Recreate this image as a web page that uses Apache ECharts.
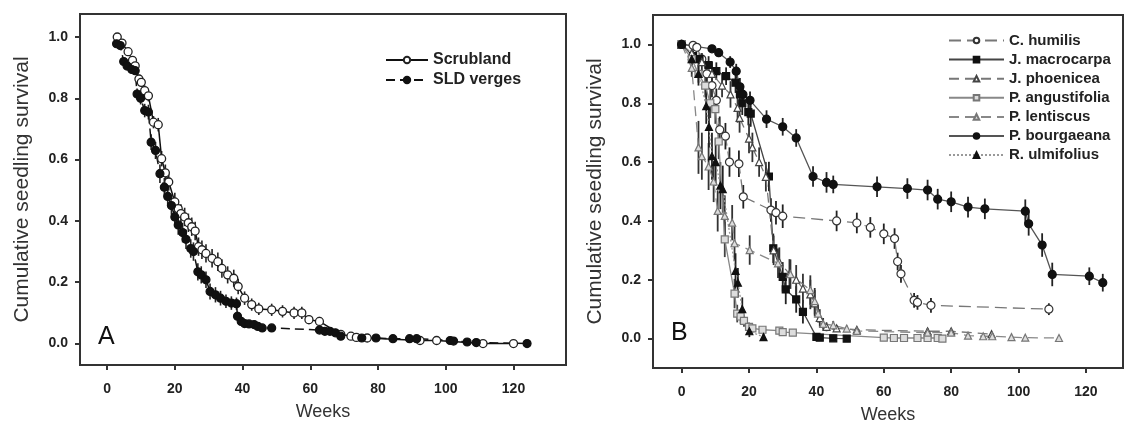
<!DOCTYPE html>
<html><head><meta charset="utf-8">
<script src="https://cdn.jsdelivr.net/npm/echarts@6/dist/echarts.min.js"></script>
<style>html,body{margin:0;padding:0;background:#fff}#c{width:1124px;height:430px}</style>
</head><body><div id="c"></div>
<script>
// ---- axis ticks ----
const xTicks = [0,20,40,60,80,100,120];
const yTicks = [0,0.2,0.4,0.6,0.8,1.0];

// ---- Panel A ----
const scrubWeeks = [3,4.4,6.2,7.5,8.3,9.4,10.1,11.1,12.2,13.7,15.1,16.1,17.2,18.2,20,21,21.8,22.9,24,25,26,27,28,29.2,31,32.7,33.9,35.6,37.4,38.7,40.6,42.7,44.8,48.6,51.8,55.2,57.5,59.6,62.7,69,72,73.6,76.8,92.4,97.3,111,120];
const scrubVals  = [1.0,0.98,0.952,0.924,0.906,0.863,0.852,0.825,0.808,0.722,0.714,0.603,0.557,0.527,0.462,0.44,0.424,0.413,0.394,0.381,0.367,0.316,0.306,0.294,0.278,0.267,0.245,0.224,0.213,0.186,0.148,0.127,0.113,0.11,0.105,0.1,0.1,0.078,0.072,0.03,0.024,0.02,0.018,0.01,0.01,0.0,0.0];
const scrubErr   = [0,0.005,0.008,0.01,0.012,0.014,0.015,0.017,0.018,0.02,0.022,0.025,0.027,0.028,0.03,0.03,0.03,0.03,0.03,0.03,0.03,0.03,0.03,0.03,0.03,0.03,0.03,0.028,0.028,0.025,0.022,0.02,0.02,0.02,0.02,0.02,0.02,0.015,0.015,0.008,0.007,0.006,0.006,0.004,0.004,0,0];

const sldWeeks = [2.8,3.9,4.9,5.9,7.3,8.3,8.85,9.9,11.1,12.2,13,14.3,15.6,16.9,17.9,19,20,21,22.3,23.3,24.7,25.5,26.8,27.8,29.2,30.4,32,33.5,35.1,36.7,38.2,38.5,39.6,40.6,41.9,43.4,44.5,45.8,48.6,62.7,64.3,65.8,67.4,69,75.2,79.4,84.4,89.3,91.4,101.3,102.3,106.3,109,124];
const sldVals  = [0.978,0.972,0.92,0.905,0.894,0.89,0.814,0.8,0.76,0.755,0.657,0.63,0.554,0.51,0.48,0.45,0.413,0.387,0.362,0.34,0.31,0.3,0.234,0.224,0.208,0.17,0.159,0.148,0.138,0.132,0.13,0.089,0.072,0.065,0.064,0.062,0.056,0.051,0.051,0.044,0.04,0.04,0.035,0.024,0.018,0.018,0.016,0.016,0.016,0.01,0.008,0.005,0.003,0.0];
const sldErr   = [0.005,0.006,0.01,0.012,0.013,0.014,0.018,0.02,0.022,0.024,0.026,0.028,0.03,0.03,0.03,0.03,0.032,0.032,0.032,0.032,0.03,0.03,0.028,0.028,0.027,0.026,0.025,0.024,0.022,0.022,0.02,0.015,0.012,0.01,0.01,0.01,0.01,0.008,0.008,0.008,0.008,0.008,0.007,0.006,0.005,0.005,0.004,0.004,0.004,0.003,0.003,0.002,0.002,0];

// ---- Panel B ----
const humWeeks = [0,3.4,4.5,6,7.5,9,10.3,11.3,13,14.2,17,18.3,26.5,28,30,46,52,56,60,63.2,64.1,65.1,69,70,74,109];
const humVals  = [1,0.997,0.99,0.95,0.9,0.86,0.81,0.71,0.688,0.6,0.594,0.482,0.437,0.428,0.416,0.4,0.393,0.378,0.356,0.34,0.262,0.22,0.13,0.123,0.113,0.1];
const humErr   = [0,0.005,0.01,0.02,0.03,0.04,0.04,0.045,0.045,0.05,0.045,0.04,0.04,0.04,0.04,0.035,0.035,0.035,0.035,0.035,0.03,0.03,0.025,0.025,0.025,0.02];

const macWeeks = [0,3.4,5.3,8,10.3,13.2,16,17.3,18,19.8,20.5,25.9,27.2,30,30.9,34,36,40,41,45,49];
const macVals  = [1,0.96,0.95,0.93,0.909,0.892,0.87,0.83,0.8,0.77,0.765,0.551,0.307,0.21,0.167,0.133,0.091,0.006,0.003,0.001,0];
const macErr   = [0,0.02,0.02,0.03,0.03,0.03,0.035,0.04,0.04,0.045,0.045,0.05,0.05,0.05,0.05,0.045,0.04,0.01,0.005,0.003,0];

const phoWeeks = [0,3,6,9,12,14.5,16.6,17.2,20,21,23,25,27.3,29,32,34,36,38.2,39.5,41,43,46,52,73,80,92];
const phoVals  = [1,0.97,0.94,0.9,0.86,0.83,0.784,0.75,0.68,0.65,0.6,0.55,0.3,0.26,0.22,0.2,0.17,0.15,0.12,0.07,0.04,0.035,0.03,0.025,0.025,0.015];
const phoErr   = [0,0.02,0.03,0.04,0.04,0.045,0.05,0.05,0.05,0.05,0.05,0.05,0.05,0.05,0.05,0.05,0.05,0.05,0.045,0.03,0.015,0.01,0.01,0.01,0.01,0.008];

const angWeeks = [0,3,5,7,8.5,10,11,12.8,15.7,16.5,17.5,18.5,20,21,24,29,30,33,60,63,66,70,73,76,77.4];
const angVals  = [1,0.95,0.9,0.86,0.8,0.78,0.67,0.337,0.153,0.085,0.075,0.06,0.04,0.035,0.03,0.027,0.022,0.02,0.003,0.002,0.002,0.002,0.002,0.002,0.0];
const angErr   = [0,0.02,0.03,0.04,0.05,0.05,0.06,0.06,0.05,0.03,0.025,0.02,0.015,0.012,0.01,0.01,0.01,0.008,0.004,0.003,0.003,0.003,0.003,0.003,0];

const lenWeeks = [0,3,5,6,8,9.5,10.7,12.8,15,15.7,20.2,28.6,32.3,38.2,39.5,40.5,42,45,49,52,73,80,85,89.5,92.2,97.9,102,112];
const lenVals  = [1,0.92,0.65,0.62,0.585,0.534,0.434,0.417,0.394,0.324,0.301,0.256,0.219,0.165,0.127,0.085,0.05,0.045,0.034,0.026,0.02,0.02,0.01,0.008,0.008,0.005,0.003,0.002];
const lenErr   = [0,0.03,0.09,0.08,0.08,0.07,0.07,0.07,0.06,0.06,0.05,0.05,0.05,0.05,0.045,0.03,0.02,0.015,0.01,0.01,0.008,0.008,0.006,0.005,0.005,0.004,0.003,0.002];

const bouWeeks = [0,9,11,14.4,16.2,17.3,18.2,20.3,25.2,30,34,39,43,45,58,67,73,76,80,85,90,102,103,107,110,121,125];
const bouVals  = [1,0.985,0.972,0.94,0.909,0.856,0.83,0.81,0.746,0.72,0.682,0.551,0.531,0.524,0.516,0.51,0.505,0.474,0.465,0.447,0.441,0.433,0.39,0.318,0.218,0.212,0.19];
const bouErr   = [0,0.01,0.015,0.02,0.025,0.03,0.03,0.03,0.03,0.03,0.03,0.035,0.035,0.03,0.035,0.035,0.035,0.035,0.035,0.035,0.035,0.04,0.04,0.04,0.04,0.03,0.03];

const ulmWeeks = [0,3,5,7.3,8.1,9,10.1,11.5,12.2,16,16.7,18,20.1,24.3];
const ulmVals  = [1,0.95,0.9,0.79,0.72,0.62,0.6,0.52,0.508,0.23,0.19,0.1,0.025,0.005];
const ulmErr   = [0,0.03,0.04,0.06,0.07,0.08,0.08,0.08,0.08,0.06,0.05,0.04,0.02,0.01];

const FONT = 'Liberation Sans, Arial, sans-serif';

function pairs(w, v){ return w.map((x,i)=>[x, v[i]]); }
function errSeries(id, w, v, e, ai, color, width){
  return {
    type:'custom', name:'err_'+id, xAxisIndex:ai, yAxisIndex:ai, silent:true, z:2,
    data: w.map((x,i)=>[x, v[i]-e[i], v[i]+e[i]]),
    encode:{x:0, y:[1,2]},
    renderItem(params, api){
      const p1 = api.coord([api.value(0), api.value(1)]);
      const p2 = api.coord([api.value(0), api.value(2)]);
      return {type:'line', shape:{x1:p1[0],y1:p1[1],x2:p2[0],y2:p2[1]}, style:{stroke:color, lineWidth:width}};
    }
  };
}
function lineSeries(name, w, v, ai, o){
  return {
    type:'line', name, xAxisIndex:ai, yAxisIndex:ai, data:pairs(w,v), z:3,
    symbol:o.symbol, symbolSize:o.size, showAllSymbol:true,
    lineStyle:{color:o.line, width:o.lw||1.3, type:o.dash||'solid'},
    itemStyle:{color:o.fill, borderColor:o.border, borderWidth:o.bw||1.2},
    emphasis:{disabled:true}
  };
}

function xAxisDef(gi, min, max){
  return {gridIndex:gi, type:'value', min, max,
    axisLine:{show:true, onZero:false, lineStyle:{color:'#333', width:2}},
    axisTick:{show:true, customValues:xTicks, length:5, lineStyle:{color:'#333', width:2}},
    axisLabel:{customValues:xTicks, fontWeight:'bold', fontSize:14, color:'#222', margin:17, fontFamily:FONT},
    splitLine:{show:false},
    name:'Weeks', nameLocation:'middle', nameGap:38,
    nameTextStyle:{fontSize:18, color:'#333', fontFamily:FONT}};
}
function yAxisDef(gi, min, max){
  return {gridIndex:gi, type:'value', min, max,
    axisLine:{show:true, onZero:false, lineStyle:{color:'#333', width:2}},
    axisTick:{show:true, customValues:yTicks, length:5, lineStyle:{color:'#333', width:2}},
    axisLabel:{customValues:yTicks, formatter:v=>v.toFixed(1), fontWeight:'bold', fontSize:14, color:'#222', margin:12, fontFamily:FONT},
    splitLine:{show:false},
    name:'Cumulative seedling survival', nameLocation:'middle', nameGap:47,
    nameTextStyle:{fontSize:21, color:'#333', fontFamily:FONT}};
}

const chart = echarts.init(document.getElementById('c'), null, {renderer:'canvas'});
const option = {
  animation:false,
  backgroundColor:'#fff',
  grid:[
    {left:80, right:558, top:14, bottom:65, show:true, borderColor:'#333', borderWidth:2, backgroundColor:'transparent'},
    {left:653, right:1, top:15, bottom:62, show:true, borderColor:'#333', borderWidth:2, backgroundColor:'transparent'}
  ],
  xAxis:[ xAxisDef(0, -8, 135.5), xAxisDef(1, -8.5, 131) ],
  yAxis:[ yAxisDef(0, -0.07, 1.075), yAxisDef(1, -0.1, 1.1) ],
  legend:[
    {left:380, top:47, orient:'vertical', itemWidth:42, itemHeight:8, itemGap:4,
     textStyle:{fontSize:16, fontWeight:'bold', color:'#222', fontFamily:FONT},
     data:['Scrubland','SLD verges']},
    {left:943, top:28, orient:'vertical', itemWidth:55, itemHeight:7, itemGap:4.1,
     textStyle:{fontSize:15, fontWeight:'bold', color:'#222', fontFamily:FONT},
     data:['C. humilis','J. macrocarpa','J. phoenicea','P. angustifolia','P. lentiscus','P. bourgaeana','R. ulmifolius']}
  ],
  graphic:[
    {type:'text', left:98, top:325, style:{text:'A', font:'25px '+FONT, fill:'#111'}},
    {type:'text', left:671, top:321, style:{text:'B', font:'25px '+FONT, fill:'#111'}}
  ],
  series:[
    errSeries('scrub', scrubWeeks, scrubVals, scrubErr, 0, '#222', 1.6),
    errSeries('sld', sldWeeks, sldVals, sldErr, 0, '#222', 1.6),
    lineSeries('Scrubland', scrubWeeks, scrubVals, 0, {symbol:'circle', size:8, line:'#111', lw:1.5, fill:'#fff', border:'#222', bw:1.3}),
    lineSeries('SLD verges', sldWeeks, sldVals, 0, {symbol:'circle', size:8, line:'#111', lw:1.5, dash:[9,5], fill:'#111', border:'#111'}),

    errSeries('hum', humWeeks, humVals, humErr, 1, '#222', 1.8),
    errSeries('mac', macWeeks, macVals, macErr, 1, '#222', 1.8),
    errSeries('pho', phoWeeks, phoVals, phoErr, 1, '#333', 1.8),
    errSeries('ang', angWeeks, angVals, angErr, 1, '#444', 1.8),
    errSeries('len', lenWeeks, lenVals, lenErr, 1, '#333', 1.8),
    errSeries('bou', bouWeeks, bouVals, bouErr, 1, '#222', 1.8),
    errSeries('ulm', ulmWeeks, ulmVals, ulmErr, 1, '#222', 1.8),

    lineSeries('C. humilis', humWeeks, humVals, 1, {symbol:'circle', size:8, line:'#777', dash:[12,6], fill:'#fff', border:'#333'}),
    lineSeries('J. macrocarpa', macWeeks, macVals, 1, {symbol:'rect', size:7, line:'#444', fill:'#111', border:'#111'}),
    lineSeries('J. phoenicea', phoWeeks, phoVals, 1, {symbol:'triangle', size:7, line:'#777', dash:[10,6], fill:'#fff', border:'#444'}),
    lineSeries('P. angustifolia', angWeeks, angVals, 1, {symbol:'rect', size:7, line:'#888', fill:'#ddd', border:'#777'}),
    lineSeries('P. lentiscus', lenWeeks, lenVals, 1, {symbol:'triangle', size:7, line:'#888', dash:[10,6], fill:'#ddd', border:'#777'}),
    lineSeries('P. bourgaeana', bouWeeks, bouVals, 1, {symbol:'circle', size:8, line:'#555', fill:'#111', border:'#111'}),
    lineSeries('R. ulmifolius', ulmWeeks, ulmVals, 1, {symbol:'triangle', size:7, line:'#999', dash:[2,2], fill:'#111', border:'#111'})
  ]
};
chart.setOption(option);
</script></body></html>
